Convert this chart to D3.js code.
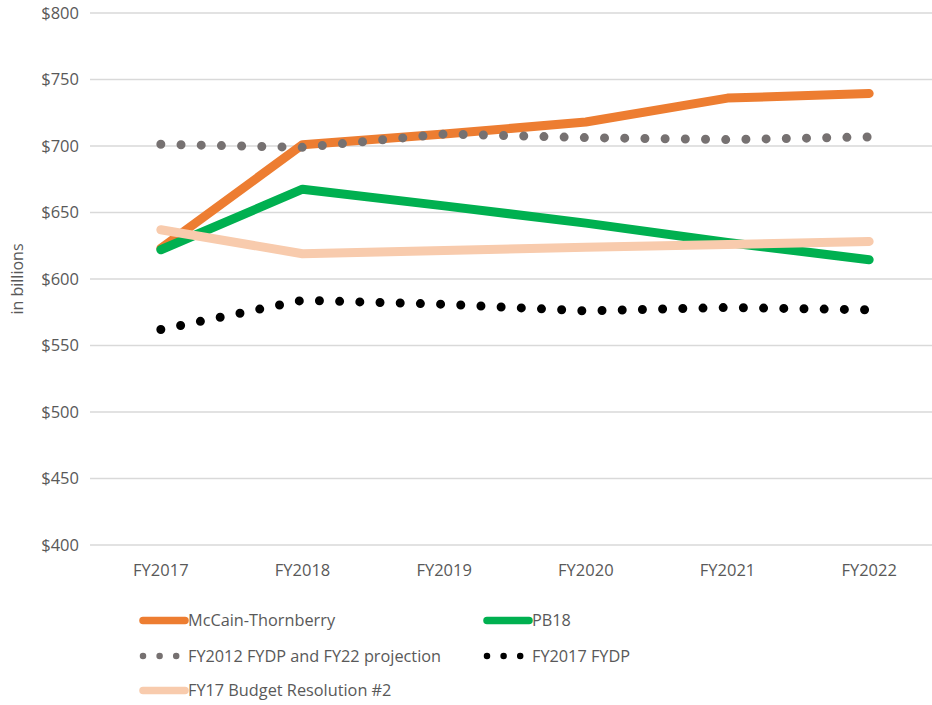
<!DOCTYPE html>
<html>
<head>
<meta charset="utf-8">
<script src="https://cdn.jsdelivr.net/npm/d3@7"></script>
<style>
  body { margin: 0; background: #fff; }
  svg { display: block; font-family: 'Open Sans', sans-serif; }
</style>
</head>
<body>
<svg id="chart"></svg>
<script>
// Data
const years = ["FY2017", "FY2018", "FY2019", "FY2020", "FY2021", "FY2022"];
const yTicks = [400, 450, 500, 550, 600, 650, 700, 750, 800];

const mccainThornberry = [623, 701, 709, 718, 736, 739.5];
const pb18 = [622, 667.5, 655, 642, 627.5, 614.5];
const fy2012Fydp = [701.3, 699, 709, 706.3, 704.8, 706.8];
const fy2017Fydp = [562, 584, 581, 576, 578.6, 576.8];
const budgetRes2 = [637, 619, 621.5, 623.8, 626, 628.2];

const seriesNames = [
    "McCain-Thornberry",
    "PB18",
    "FY2012 FYDP and FY22 projection",
    "FY2017 FYDP",
    "FY17 Budget Resolution #2"
];

// Colors
const ORANGE = '#ed7d31';
const GREEN = '#00b050';
const GRAY = '#767171';
const BLACK = '#000000';
const PEACH = '#f8cbad';
const GRID = '#d9d9d9';
const TEXT = '#595959';

// drawn in this order, last one on top
const series = [
    {name: seriesNames[0], values: mccainThornberry, color: ORANGE, dotted: false},
    {name: seriesNames[1], values: pb18, color: GREEN, dotted: false},
    {name: seriesNames[2], values: fy2012Fydp, color: GRAY, dotted: true},
    {name: seriesNames[3], values: fy2017Fydp, color: BLACK, dotted: true},
    {name: seriesNames[4], values: budgetRes2, color: PEACH, dotted: false}
];

function draw() {
    const width = 932;
    const height = 705;
    const margin = {top: 13, right: -8, bottom: 160, left: 90};

    const svg = d3.select("svg#chart")
        .attr("width", width)
        .attr("height", height);

    const x = d3.scaleBand()
        .domain(years)
        .range([margin.left, width - margin.right]);

    const y = d3.scaleLinear()
        .domain([400, 800])
        .range([height - margin.bottom, margin.top]);

    // gridlines
    svg.append("g")
        .selectAll("line")
        .data(yTicks)
        .join("line")
        .attr("x1", margin.left)
        .attr("x2", width)
        .attr("y1", d => y(d))
        .attr("y2", d => y(d))
        .attr("stroke", GRID)
        .attr("stroke-width", 1.3);

    // y axis
    const yAxis = svg.append("g")
        .attr("transform", `translate(${margin.left - 8},0)`)
        .call(d3.axisLeft(y).tickValues(yTicks).tickSize(0).tickFormat(d => "$" + d));
    yAxis.select(".domain").remove();
    yAxis.selectAll("text")
        .attr("fill", TEXT)
        .attr("font-size", 16.5)
        .attr("font-family", "'Open Sans', sans-serif");

    // x axis
    const xAxis = svg.append("g")
        .attr("transform", `translate(0,${y(400) + 16})`)
        .call(d3.axisBottom(x).tickSize(0));
    xAxis.select(".domain").remove();
    xAxis.selectAll("text")
        .attr("fill", TEXT)
        .attr("font-size", 16.5)
        .attr("font-family", "'Open Sans', sans-serif");

    // axis title
    svg.append("text")
        .attr("transform", `translate(23,${y(600)}) rotate(-90)`)
        .attr("text-anchor", "middle")
        .attr("fill", TEXT)
        .attr("font-size", 16)
        .text("in billions");

    const line = d3.line()
        .x((d, i) => x(years[i]) + x.bandwidth() / 2)
        .y(d => y(d));

    svg.append("g")
        .attr("fill", "none")
        .selectAll("path")
        .data(series)
        .join("path")
        .attr("d", d => line(d.values))
        .attr("stroke", d => d.color)
        .attr("stroke-width", 9)
        .attr("stroke-linecap", "round")
        .attr("stroke-linejoin", "round")
        .attr("stroke-dasharray", d => d.dotted ? "0 20.2" : null);

    // legend
    const legendItems = [
        {name: seriesNames[0], color: ORANGE, dotted: false, col: 0, row: 0},
        {name: seriesNames[1], color: GREEN, dotted: false, col: 1, row: 0},
        {name: seriesNames[2], color: GRAY, dotted: true, col: 0, row: 1},
        {name: seriesNames[3], color: BLACK, dotted: true, col: 1, row: 1},
        {name: seriesNames[4], color: PEACH, dotted: false, col: 0, row: 2}
    ];
    const legendX = [143, 487];
    const legendY = [620.5, 656, 690.5];

    const leg = svg.append("g")
        .selectAll("g")
        .data(legendItems)
        .join("g")
        .attr("transform", d => `translate(${legendX[d.col]},${legendY[d.row]})`);

    leg.filter(d => !d.dotted)
        .append("line")
        .attr("x1", 0)
        .attr("x2", 42)
        .attr("stroke", d => d.color)
        .attr("stroke-width", 7.5)
        .attr("stroke-linecap", "round");

    leg.filter(d => d.dotted)
        .append("line")
        .attr("x1", 0)
        .attr("x2", 34)
        .attr("stroke", d => d.color)
        .attr("stroke-width", 6.5)
        .attr("stroke-linecap", "round")
        .attr("stroke-dasharray", "0 16.6");

    leg.append("text")
        .attr("x", 45)
        .attr("dy", "0.35em")
        .attr("fill", TEXT)
        .attr("font-size", 16.3)
        .text(d => d.name);
}

draw();
</script>
</body>
</html>
